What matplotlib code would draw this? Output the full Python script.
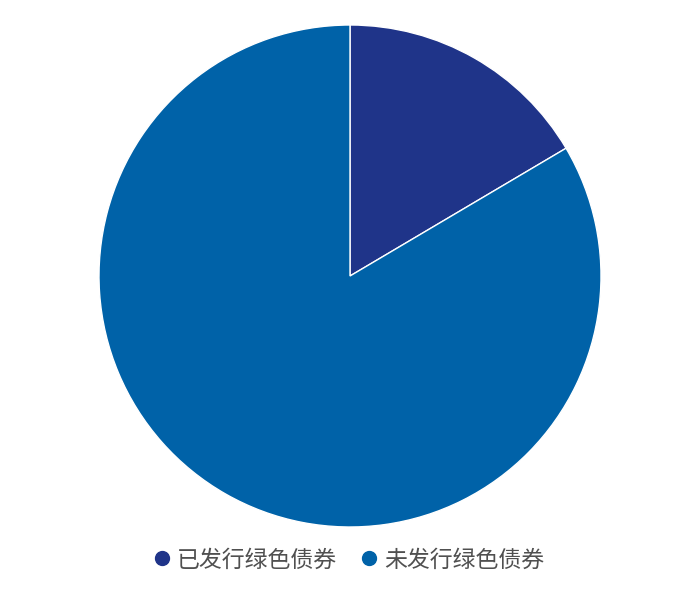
import matplotlib.pyplot as plt
from matplotlib.lines import Line2D

plt.rcParams['font.family'] = ['Noto Sans CJK SC', 'DejaVu Sans']

labels = ['已发行绿色债券', '未发行绿色债券']
values = [16.5, 83.5]
colors = ['#1f3489', '#0062a8']

fig = plt.figure(figsize=(7, 5.95), dpi=100)
ax = fig.add_axes([99 / 700, 68 / 595, 502 / 700, 502 / 595])

ax.pie(values, colors=colors, startangle=90, counterclock=False, radius=1,
       wedgeprops=dict(edgecolor='white', linewidth=1))
ax.set_xlim(-1, 1)
ax.set_ylim(-1, 1)
ax.set_aspect('equal')
ax.axis('off')

handles = [Line2D([], [], marker='o', linestyle='', markersize=10,
                  markerfacecolor=c, markeredgecolor=c) for c in colors]
fig.legend(handles, labels, loc='center', bbox_to_anchor=(0.5, 1 - 560 / 595),
           ncol=2, frameon=False, fontsize=16.5, handlelength=0.6,
           handletextpad=0.35, columnspacing=1.1, labelcolor='#505050')

fig.savefig('out.png', dpi=100)
